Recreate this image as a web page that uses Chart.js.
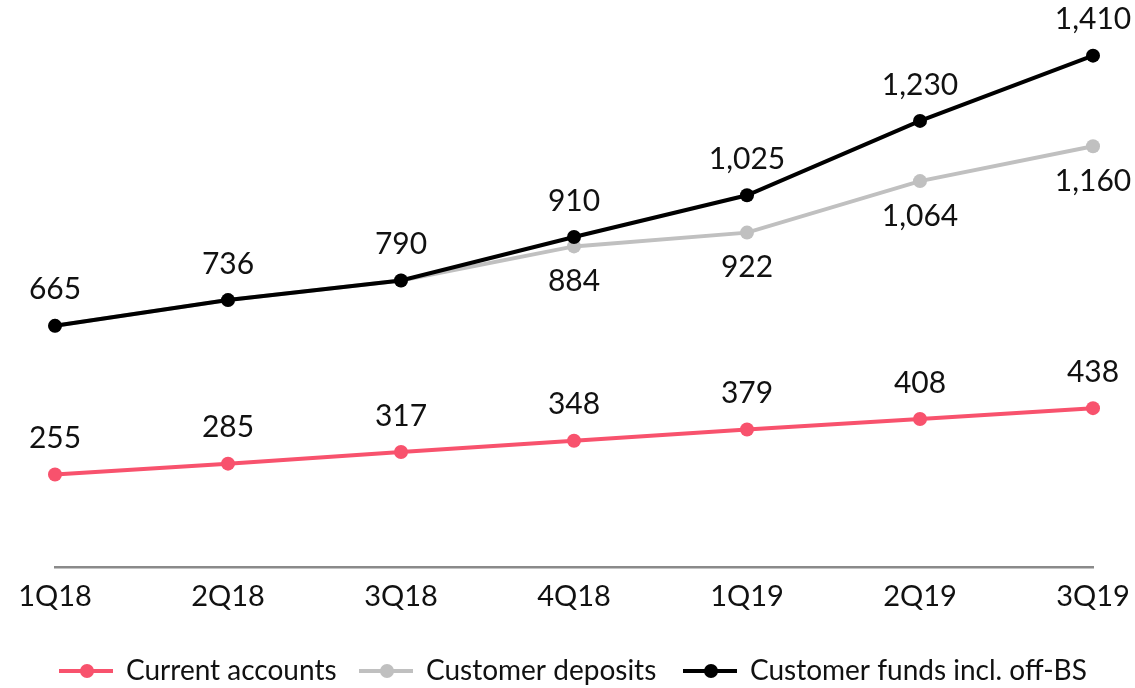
<!DOCTYPE html>
<html>
<head>
<meta charset="utf-8">
<script src="https://cdn.jsdelivr.net/npm/chart.js@4/dist/chart.umd.min.js"></script>
<style>
html,body{margin:0;padding:0;background:#fff;}
#wrap{width:1135px;height:688px;position:relative;}
</style>
</head>
<body>
<div id="wrap"><canvas id="c" width="1135" height="688"></canvas></div>
<script>
const categories = ['1Q18','2Q18','3Q18','4Q18','1Q19','2Q19','3Q19'];
const currentAccounts = [255, 285, 317, 348, 379, 408, 438];
const customerDeposits = [665, 736, 790, 884, 922, 1064, 1160];
const customerFunds = [665, 736, 790, 910, 1025, 1230, 1410];
const seriesNames = ['Current accounts', 'Customer deposits', 'Customer funds incl. off-BS'];
const seriesColors = ['#f8526d', '#c0c0c0', '#000000'];
// which labels to show and where (above/below)
const labelPlacement = [
  ['above','above','above','above','above','above','above'],
  [null,null,null,'below','below','below','below'],
  ['above','above','above','above','above','above','above']
];

const FONT = 'Lato, "Noto Sans", sans-serif';

const fmt = v => v.toLocaleString('en-US');

const labelPlugin = {
  id: 'valueLabels',
  afterDatasetsDraw(chart) {
    const ctx = chart.ctx;
    ctx.save();
    ctx.font = '30px ' + FONT;
    ctx.fillStyle = '#111';
    ctx.textAlign = 'center';
    ctx.textBaseline = 'middle';
    chart.data.datasets.forEach((ds, di) => {
      const meta = chart.getDatasetMeta(di);
      meta.data.forEach((pt, i) => {
        const place = labelPlacement[di][i];
        if (!place) return;
        const y = place === 'above' ? pt.y - 36 : pt.y + 35;
        ctx.fillText(fmt(ds.data[i]), pt.x, y);
      });
    });
    ctx.restore();
  }
};

const legendPlugin = {
  id: 'lineLegend',
  afterDraw(chart) {
    const ctx = chart.ctx;
    ctx.save();
    ctx.font = '28px ' + FONT;
    ctx.textBaseline = 'middle';
    ctx.textAlign = 'left';
    const y = 671;
    const starts = [59, 359, 683];
    seriesNames.forEach((name, i) => {
      const x0 = starts[i];
      ctx.strokeStyle = seriesColors[i];
      ctx.lineWidth = 4;
      ctx.beginPath();
      ctx.moveTo(x0, y);
      ctx.lineTo(x0 + 54, y);
      ctx.stroke();
      ctx.fillStyle = seriesColors[i];
      ctx.beginPath();
      ctx.arc(x0 + 28, y, 7, 0, Math.PI * 2);
      ctx.fill();
      ctx.fillStyle = '#111';
      ctx.fillText(name, x0 + 67, y);
    });
    ctx.restore();
  }
};

new Chart(document.getElementById('c'), {
  type: 'line',
  data: {
    labels: categories,
    datasets: [
      { label: seriesNames[0], data: currentAccounts, borderColor: seriesColors[0], backgroundColor: seriesColors[0], order: 2 },
      { label: seriesNames[1], data: customerDeposits, borderColor: seriesColors[1], backgroundColor: seriesColors[1], order: 1 },
      { label: seriesNames[2], data: customerFunds, borderColor: seriesColors[2], backgroundColor: seriesColors[2], order: 0 }
    ].map(d => Object.assign(d, { borderWidth: 4, pointRadius: 7, pointHoverRadius: 7, pointBorderWidth: 0, tension: 0, fill: false }))
  },
  options: {
    responsive: false,
    animation: false,
    events: [],
    layout: { padding: { left: 55, right: 42, top: 23, bottom: 0 } },
    plugins: { legend: { display: false }, tooltip: { enabled: false } },
    scales: {
      x: {
        offset: false,
        grid: { display: false, drawTicks: false },
        border: { display: true, color: '#8a8a8a', width: 2.5 },
        ticks: { color: '#111', font: { family: FONT, size: 29 }, padding: 12, maxRotation: 0, autoSkip: false },
        afterFit(scale) { scale.height = 121; scale.paddingLeft = 0; scale.paddingRight = 0; }
      },
      y: {
        display: false,
        min: 0,
        max: 1500
      }
    }
  },
  plugins: [labelPlugin, legendPlugin]
});
</script>
</body>
</html>
